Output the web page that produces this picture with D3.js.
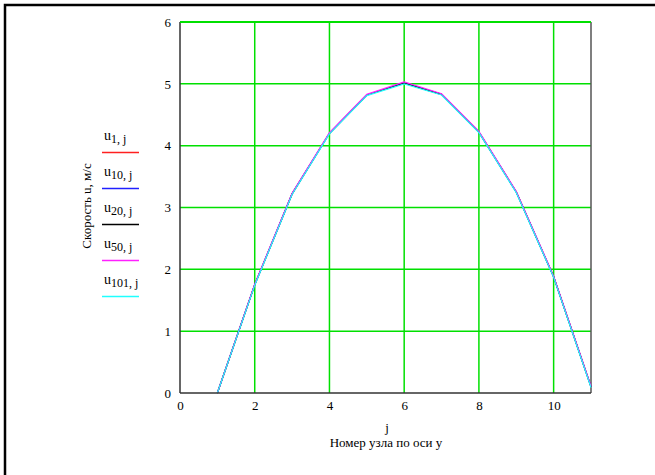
<!DOCTYPE html>
<html>
<head>
<meta charset="utf-8">
<script src="https://cdn.jsdelivr.net/npm/d3@7"></script>
<style>
  body { margin: 0; background: #fff; }
  svg text { font-family: "Liberation Serif", "DejaVu Serif", serif; fill: #000; }
</style>
</head>
<body>
<svg id="chart" width="655" height="475"></svg>
<script>
// node numbers along y
const nodes = [1, 2, 3, 4, 5, 6, 7, 8, 9, 10, 11];

// velocity profiles at different time layers (they almost coincide)
const u1   = [0, 1.75, 3.22, 4.20, 4.82, 5.01, 4.83, 4.22, 3.25, 1.88, 0.10];
const u10  = [0, 1.75, 3.22, 4.20, 4.82, 5.01, 4.83, 4.22, 3.25, 1.88, 0.10];
const u20  = [0, 1.75, 3.22, 4.20, 4.82, 5.01, 4.83, 4.22, 3.25, 1.88, 0.10];
const u50  = [0, 1.76, 3.23, 4.21, 4.83, 5.03, 4.84, 4.23, 3.26, 1.89, 0.11];
const u101 = [0, 1.74, 3.21, 4.19, 4.81, 5.00, 4.82, 4.21, 3.24, 1.87, 0.09];

const seriesNames = ["1", "10", "20", "50", "101"];
const seriesColors = ["#ff2020", "#2020ff", "#000000", "#ff20ff", "#20ffff"];
const seriesValues = [u1, u10, u20, u50, u101];

const xTicks = [0, 2, 4, 6, 8, 10];
const yTicks = [0, 1, 2, 3, 4, 5, 6];

const svg = d3.select("#chart");

// outer frame of the sheet
svg.append("rect")
  .attr("x", 5).attr("y", 5)
  .attr("width", 700).attr("height", 500)
  .attr("fill", "none").attr("stroke", "#000").attr("stroke-width", 2.5);

const pLeft = 180, pRight = 591, pTop = 22, pBottom = 393;
const x = d3.scaleLinear().domain([0, 11]).range([pLeft, pRight]);
const y = d3.scaleLinear().domain([0, 6]).range([pBottom, pTop]);

// grid
const grid = svg.append("g");
grid.selectAll("line.vg").data(xTicks.filter(d => d > 0))
  .enter().append("line")
  .attr("x1", d => x(d)).attr("x2", d => x(d))
  .attr("y1", pTop).attr("y2", pBottom)
  .attr("stroke", "#00e000").attr("stroke-width", 1.5);
grid.selectAll("line.hg").data(yTicks.filter(d => d > 0))
  .enter().append("line")
  .attr("x1", pLeft).attr("x2", pRight)
  .attr("y1", d => y(d)).attr("y2", d => y(d))
  .attr("stroke", "#00e000").attr("stroke-width", 1.5);

// right border
svg.append("line")
  .attr("x1", pRight).attr("x2", pRight).attr("y1", pTop).attr("y2", pBottom)
  .attr("stroke", "#555").attr("stroke-width", 1.5);

// series
const line = d3.line().x((d, i) => x(nodes[i])).y(d => y(d));
svg.append("g").selectAll("path")
  .data(seriesValues)
  .enter().append("path")
  .attr("d", d => line(d))
  .attr("fill", "none")
  .attr("stroke", (d, i) => seriesColors[i])
  .attr("stroke-width", 1.2);

// axes
const xAxis = svg.append("g")
  .attr("transform", `translate(0,${pBottom})`)
  .call(d3.axisBottom(x).tickValues(xTicks).tickFormat(d3.format("d")).tickSize(0).tickPadding(8));
const yAxis = svg.append("g")
  .attr("transform", `translate(${pLeft},0)`)
  .call(d3.axisLeft(y).tickValues(yTicks).tickFormat(d3.format("d")).tickSize(0).tickPadding(9));
[xAxis, yAxis].forEach(a => {
  a.select(".domain").attr("stroke", "#333").attr("stroke-width", 1.5);
  a.selectAll("text").style("font-size", "13px").style("font-family", "Liberation Serif");
});
yAxis.select(".domain").attr("d", `M0,${pBottom}V${pTop}`);
xAxis.select(".domain").attr("d", `M${pLeft},0H${pRight}`);

// top green line over frame
svg.append("line")
  .attr("x1", pLeft).attr("x2", pRight).attr("y1", pTop).attr("y2", pTop)
  .attr("stroke", "#00e000").attr("stroke-width", 1.8);

// axis titles
svg.append("text")
  .attr("x", 387).attr("y", 432)
  .attr("text-anchor", "middle").style("font-size", "13px")
  .text("j");
svg.append("text")
  .attr("x", 386).attr("y", 447)
  .attr("text-anchor", "middle").style("font-size", "13px")
  .text("Номер узла по оси у");
svg.append("text")
  .attr("transform", "translate(91,206) rotate(-90)")
  .attr("text-anchor", "middle").style("font-size", "13px")
  .text("Скорость u, м/с");

// legend
const legend = svg.append("g").selectAll("g")
  .data(seriesNames)
  .enter().append("g")
  .attr("transform", (d, i) => `translate(102,${140 + i * 36})`);
const lt = legend.append("text").attr("x", 2).attr("y", 0).style("font-size", "14px");
lt.append("tspan").text("u");
lt.append("tspan").attr("dy", 3).style("font-size", "12px").text(d => d + ", j");
legend.append("line")
  .attr("x1", 0).attr("x2", 37).attr("y1", 12.5).attr("y2", 12.5)
  .attr("stroke", (d, i) => seriesColors[i]).attr("stroke-width", 1.5);
</script>
</body>
</html>
